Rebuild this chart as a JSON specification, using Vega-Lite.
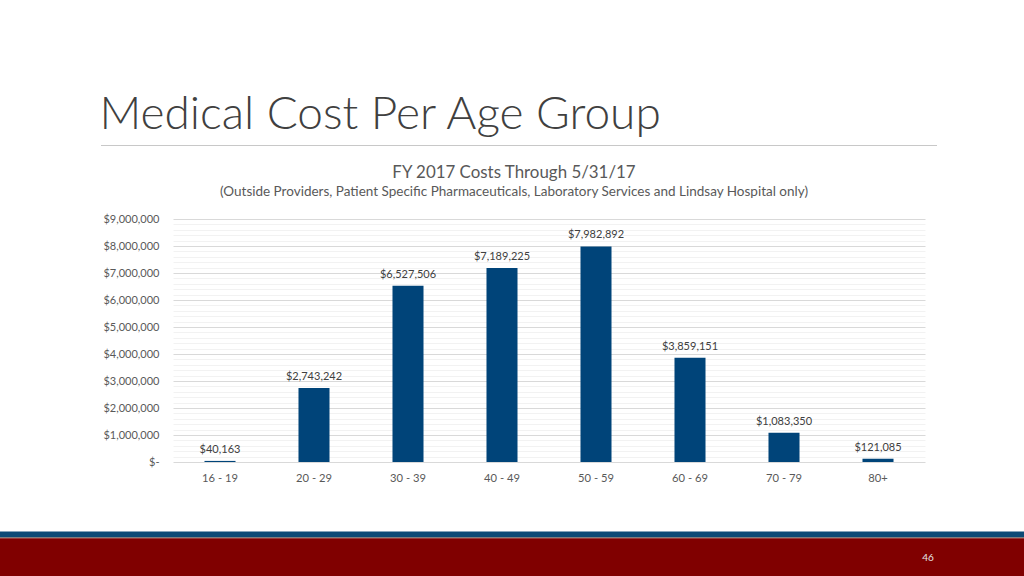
{
  "$schema": "https://vega.github.io/schema/vega-lite/v6.json",
  "width": 752,
  "height": 243,
  "autosize": {"type": "none"},
  "padding": {"left": 173, "top": 219, "right": 99, "bottom": 114},
  "background": "white",
  "config": {"view": {"stroke": null}, "font": "Lato"},
  "title": {
    "text": "FY 2017 Costs Through 5/31/17",
    "subtitle": "(Outside Providers, Patient Specific  Pharmaceuticals, Laboratory Services and Lindsay Hospital only)",
    "anchor": "middle",
    "frame": "group",
    "dx": -35,
    "offset": -108,
    "font": "Lato",
    "fontSize": 16.9,
    "fontWeight": "normal",
    "color": "#595959",
    "subtitleFont": "Lato",
    "subtitleFontSize": 13.5,
    "subtitleColor": "#595959",
    "subtitlePadding": 3
  },
  "data": {
    "values": [
      {"age": "16 - 19", "cost": 40163},
      {"age": "20 - 29", "cost": 2743242},
      {"age": "30 - 39", "cost": 6527506},
      {"age": "40 - 49", "cost": 7189225},
      {"age": "50 - 59", "cost": 7982892},
      {"age": "60 - 69", "cost": 3859151},
      {"age": "70 - 79", "cost": 1083350},
      {"age": "80+", "cost": 121085}
    ]
  },
  "layer": [
    {
      "mark": {"type": "bar", "color": "#004479"},
      "encoding": {
        "x": {
          "field": "age",
          "type": "nominal",
          "sort": null,
          "scale": {"paddingInner": 0.67, "paddingOuter": 0.335},
          "axis": {
            "title": null,
            "labelAngle": 0,
            "labelFont": "Lato",
            "labelFontSize": 11.2,
            "labelColor": "#595959",
            "labelPadding": 10,
            "ticks": false,
            "domain": false,
            "grid": false
          }
        },
        "y": {
          "field": "cost",
          "type": "quantitative",
          "title": "Medical Cost Per Age Group",
          "scale": {"domain": [0, 9000000], "nice": false},
          "axis": {
            "values": [0, 200000, 400000, 600000, 800000, 1000000, 1200000, 1400000, 1600000, 1800000, 2000000, 2200000, 2400000, 2600000, 2800000, 3000000, 3200000, 3400000, 3600000, 3800000, 4000000, 4200000, 4400000, 4600000, 4800000, 5000000, 5200000, 5400000, 5600000, 5800000, 6000000, 6200000, 6400000, 6600000, 6800000, 7000000, 7200000, 7400000, 7600000, 7800000, 8000000, 8200000, 8400000, 8600000, 8800000, 9000000],
            "tickCount": 100,
            "labelExpr": "datum.value === 0 ? '$-\u00a0\u00a0\u00a0' : (datum.value % 1000000 === 0 ? '$' + format(datum.value, ',') : '')",
            "labelOverlap": false,
            "labelBound": false,
            "labelFont": "Lato",
            "labelFontSize": 11,
            "labelColor": "#595959",
            "labelPadding": 14,
            "ticks": false,
            "domain": false,
            "grid": true,
            "gridColor": {"condition": {"test": "datum.value % 1000000 === 0", "value": "#d9d9d9"}, "value": "#f2f2f2"},
            "gridWidth": 1,
            "titleAngle": 0,
            "titleX": -74,
            "titleY": -91,
            "titleAlign": "left",
            "titleBaseline": "alphabetic",
            "titleFont": "Lato",
            "titleFontSize": 46,
            "titleFontWeight": 300,
            "titleColor": "#404040",
            "titleLimit": 2000
          }
        }
      }
    },
    {
      "mark": {"type": "text", "baseline": "alphabetic", "dy": -8, "font": "Lato", "fontSize": 11, "color": "#404040"},
      "encoding": {
        "x": {"field": "age", "type": "nominal", "sort": null},
        "y": {"field": "cost", "type": "quantitative"},
        "text": {"field": "cost", "type": "quantitative", "format": "$,"}
      }
    },
    {
      "data": {"values": [{}]},
      "mark": {"type": "rule", "color": "#c8c8c8", "strokeWidth": 1},
      "encoding": {
        "x": {"value": -72},
        "x2": {"value": 764},
        "y": {"value": -73.5}
      }
    },
    {
      "data": {"values": [{}]},
      "mark": {"type": "rect", "color": "#0b4a76"},
      "encoding": {
        "x": {"value": -173},
        "x2": {"value": 851},
        "y": {"value": 312.5},
        "y2": {"value": 318}
      }
    },
    {
      "data": {"values": [{}]},
      "mark": {"type": "rect", "color": "#7f7f7f"},
      "encoding": {
        "x": {"value": -173},
        "x2": {"value": 851},
        "y": {"value": 318},
        "y2": {"value": 319.3}
      }
    },
    {
      "data": {"values": [{}]},
      "mark": {"type": "rect", "color": "#800000"},
      "encoding": {
        "x": {"value": -173},
        "x2": {"value": 851},
        "y": {"value": 319.3},
        "y2": {"value": 357}
      }
    },
    {
      "data": {"values": [{"page": "46"}]},
      "mark": {"type": "text", "font": "Lato", "fontSize": 10, "color": "#e6e6e6", "align": "center", "baseline": "middle"},
      "encoding": {
        "text": {"field": "page"},
        "x": {"value": 755},
        "y": {"value": 339}
      }
    }
  ]
}
